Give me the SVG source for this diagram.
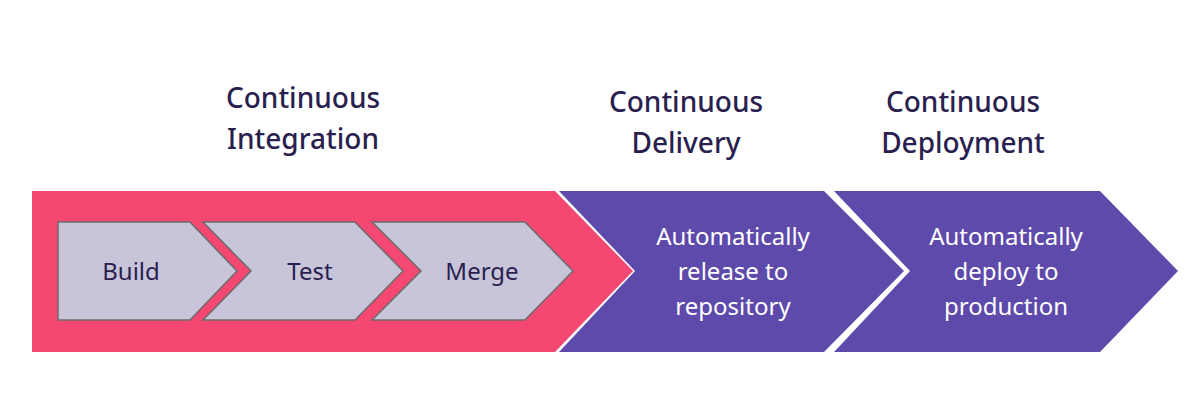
<svg xmlns="http://www.w3.org/2000/svg" width="1200" height="400" viewBox="0 0 1200 400">
<style>
.h{font-family:"Noto Sans","Open Sans",sans-serif;font-size:28px;fill:#2a1f4f;text-anchor:middle;font-weight:500}
.s{font-family:"Noto Sans","Open Sans",sans-serif;font-size:24px;fill:#2a1f4f;text-anchor:middle}
.w{font-family:"Noto Sans","Open Sans",sans-serif;font-size:24px;fill:#ffffff;text-anchor:middle}
.step{fill:#c8c5da;stroke:#6b6b6b;stroke-width:1.5}
.p{fill:#5e4aab}
</style>
<rect width="1200" height="400" fill="#fff"/>
<g id="ci">
<polygon points="32,191 555,191 633,271 555,352 32,352" fill="#f44872"/>
<text class="h" x="303" y="108">Continuous</text>
<text class="h" x="303" y="149">Integration</text>
</g>
<g id="build"><polygon class="step" points="58,222 190,222 237,271 190,320 58,320"/><text class="s" x="131" y="280">Build</text></g>
<g id="test"><polygon class="step" points="203,222 355,222 403,271 355,320 203,320 251,271"/><text class="s" x="310" y="280">Test</text></g>
<g id="merge"><polygon class="step" points="372,222 525,222 573,271 525,320 372,320 421,271"/><text class="s" x="482" y="280">Merge</text></g>
<g id="delivery">
<polygon class="p" points="559,191 824,191 904,271 824,352 559,352 635,271"/>
<text class="h" x="686" y="112">Continuous</text>
<text class="h" x="686" y="153">Delivery</text>
<text class="w" x="733" y="245">Automatically</text>
<text class="w" x="733" y="280">release to</text>
<text class="w" x="733" y="315">repository</text>
</g>
<g id="deployment">
<polygon class="p" points="834,191 1100,191 1178,271 1100,352 834,352 910,271"/>
<text class="h" x="963" y="112">Continuous</text>
<text class="h" x="963" y="153">Deployment</text>
<text class="w" x="1006" y="245">Automatically</text>
<text class="w" x="1006" y="280">deploy to</text>
<text class="w" x="1006" y="315">production</text>
</g>
<g id="connectors"/>
</svg>
